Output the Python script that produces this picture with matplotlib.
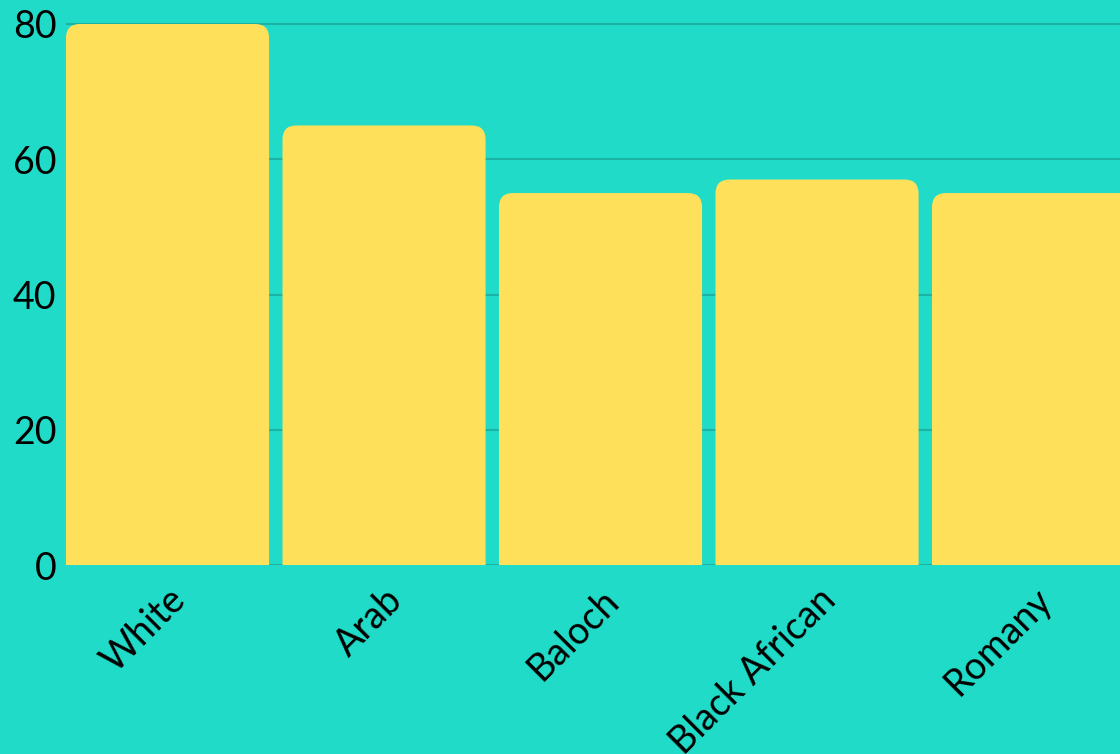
import numpy as np
import matplotlib
matplotlib.use("Agg")
import matplotlib.pyplot as plt
from matplotlib.path import Path
from matplotlib.patches import PathPatch

# Chart data
groups = ["White", "Arab", "Baloch", "Black African", "Romany"]
values = [80, 65, 55, 57, 55]
y_ticks = [0, 20, 40, 60, 80]

BG = "#20DBC8"
BAR = "#FFE05A"
GRID = "#1BB4A4"

plt.rcParams['font.family'] = ['Lato', 'DejaVu Sans']

fig = plt.figure(figsize=(11.2, 7.54), dpi=100, facecolor=BG)
ax = fig.add_axes([66 / 1120, 1 - 565 / 754, 1054 / 1120, 565 / 754])
ax.set_facecolor(BG)

x = np.arange(len(groups))
bar_w = 0.938
bars = ax.bar(x, values, width=bar_w, color=BAR, zorder=2)

ax.set_xlim(-bar_w / 2, -bar_w / 2 + 1054 / 216.5)
ax.set_ylim(0, 80 + 24 / (541 / 80))

# swap the plain rectangles for ones with rounded top corners
fig.canvas.draw()
px_x = ax.transData.transform((1, 0))[0] - ax.transData.transform((0, 0))[0]
px_y = ax.transData.transform((0, 1))[1] - ax.transData.transform((0, 0))[1]
r = 14
rx, ry = r / px_x, r / px_y
for b in bars:
    x0, y0 = b.get_x(), b.get_y()
    w, h = b.get_width(), b.get_height()
    x1, y1 = x0 + w, y0 + h
    verts = [(x0, y0), (x0, y1 - ry), (x0, y1), (x0 + rx, y1),
             (x1 - rx, y1), (x1, y1), (x1, y1 - ry), (x1, y0), (x0, y0)]
    codes = [Path.MOVETO, Path.LINETO, Path.CURVE3, Path.CURVE3,
             Path.LINETO, Path.CURVE3, Path.CURVE3, Path.LINETO, Path.CLOSEPOLY]
    ax.add_patch(PathPatch(Path(verts, codes), facecolor=BAR, edgecolor="none", zorder=2))
    b.remove()

ax.set_yticks(y_ticks)
ax.set_xticks(x)
ax.set_xticklabels(groups, rotation=45, ha="right", rotation_mode="anchor")
ax.tick_params(axis="both", length=0, labelsize=27, colors="black")
ax.tick_params(axis="y", pad=7)
ax.tick_params(axis="x", pad=12)
ax.grid(axis="y", color=GRID, linewidth=1.5, zorder=0)
ax.set_axisbelow(True)
for s in ax.spines.values():
    s.set_visible(False)

fig.savefig("out.png", dpi=100, facecolor=BG)
